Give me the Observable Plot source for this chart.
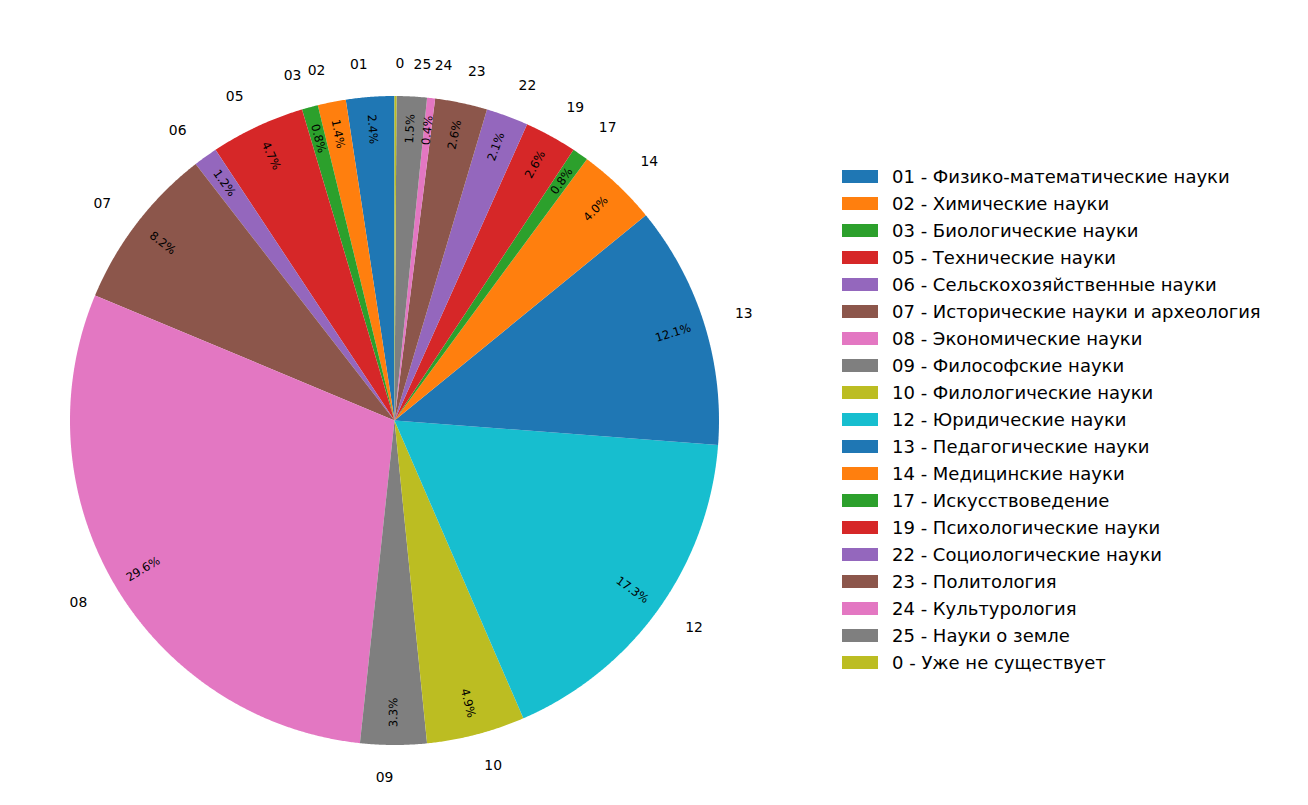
<!DOCTYPE html>
<html><head><meta charset="utf-8">
<script src="https://cdn.jsdelivr.net/npm/d3@7"></script>
<script src="https://cdn.jsdelivr.net/npm/@observablehq/plot@0.6"></script>
<style>
body{margin:0;background:#fff;width:1308px;height:805px;position:relative;overflow:hidden;font-family:"DejaVu Sans",sans-serif}
#chart{position:absolute;left:0;top:0}
#legend{position:absolute;left:842px;top:163px}
.row{display:flex;align-items:center;height:27px}
.sw{width:36px;height:13px;margin-right:14px;flex:none}
.lab{font-size:18px;color:#000;white-space:nowrap;font-family:"DejaVu Sans",sans-serif}
</style></head><body>
<div id="chart"></div><div id="legend"></div>
<script>
// ---- data ----
const codes = ["01","02","03","05","06","07","08","09","10","12","13","14","17","19","22","23","24","25","0"];
const names = ["Физико-математические науки","Химические науки","Биологические науки","Технические науки",
  "Сельскохозяйственные науки","Исторические науки и археология","Экономические науки","Философские науки",
  "Филологические науки","Юридические науки","Педагогические науки","Медицинские науки","Искусствоведение",
  "Психологические науки","Социологические науки","Политология","Культурология","Науки о земле","Уже не существует"];
const shares = [2.4,1.4,0.8,4.7,1.2,8.2,29.6,3.3,4.9,17.3,12.1,4.0,0.8,2.6,2.1,2.6,0.4,1.5,0.1];
const palette = ["#1f77b4","#ff7f0e","#2ca02c","#d62728","#9467bd","#8c564b","#e377c2","#7f7f7f","#bcbd22","#17becf"];

// ---- derived geometry ----
const total = d3.sum(shares);
const R = 324.5, W = 800, H = 805, CX = 394, CY = 420;
const rad = Math.PI / 180;
let cum = 0;
const slices = shares.map((v, i) => {
  const a0 = 90 + cum / total * 360;
  cum += v;
  const a1 = 90 + cum / total * 360;
  return {i, code: codes[i], v, a0, a1, mid: (a0 + a1) / 2, color: palette[i % palette.length]};
});
const pts = [];
for (const s of slices) {
  pts.push({k: s.i, x: 0, y: 0, c: s.color});
  const n = Math.max(2, Math.ceil((s.a1 - s.a0) / 0.25));
  for (let j = 0; j <= n; j++) {
    const a = (s.a0 + (s.a1 - s.a0) * j / n) * rad;
    pts.push({k: s.i, x: Math.cos(a), y: Math.sin(a), c: s.color});
  }
}
const outer = slices.map(s => ({t: s.code, x: 1.1 * Math.cos(s.mid * rad), y: 1.1 * Math.sin(s.mid * rad)}));
const inner = slices.filter(s => s.v / total * 100 >= 0.3).map(s => {
  let r = ((s.mid + 180) % 360 + 360) % 360 - 180;
  if (r > 90) r -= 180; else if (r < -90) r += 180;
  return {t: (s.v / total * 100).toFixed(1) + "%", x: 0.9 * Math.cos(s.mid * rad), y: 0.9 * Math.sin(s.mid * rad), rot: -r};
});

const chart = Plot.plot({
  width: W, height: H, margin: 0,
  x: {domain: [-CX / R, (W - CX) / R], axis: null},
  y: {domain: [-(H - CY) / R, CY / R], axis: null},
  style: {fontFamily: "DejaVu Sans", background: "white"},
  marks: [
    Plot.line(pts, {x: "x", y: "y", z: "k", fill: "c", stroke: null, curve: "linear-closed"}),
    Plot.text(outer.filter(d => d.x > 0), {x: "x", y: "y", text: "t", textAnchor: "start", fontSize: 13.9, fill: "black"}),
    Plot.text(outer.filter(d => d.x <= 0), {x: "x", y: "y", text: "t", textAnchor: "end", fontSize: 13.9, fill: "black"}),
    Plot.text(inner, {x: "x", y: "y", text: "t", rotate: "rot", fontSize: 11.6, fill: "black"})
  ]
});
document.getElementById("chart").appendChild(chart);

const leg = document.getElementById("legend");
codes.forEach((c, i) => {
  const row = document.createElement("div");
  row.className = "row";
  row.innerHTML = `<div class="sw" style="background:${palette[i % palette.length]}"></div><div class="lab">${c} - ${names[i]}</div>`;
  leg.appendChild(row);
});
</script>
</body></html>
